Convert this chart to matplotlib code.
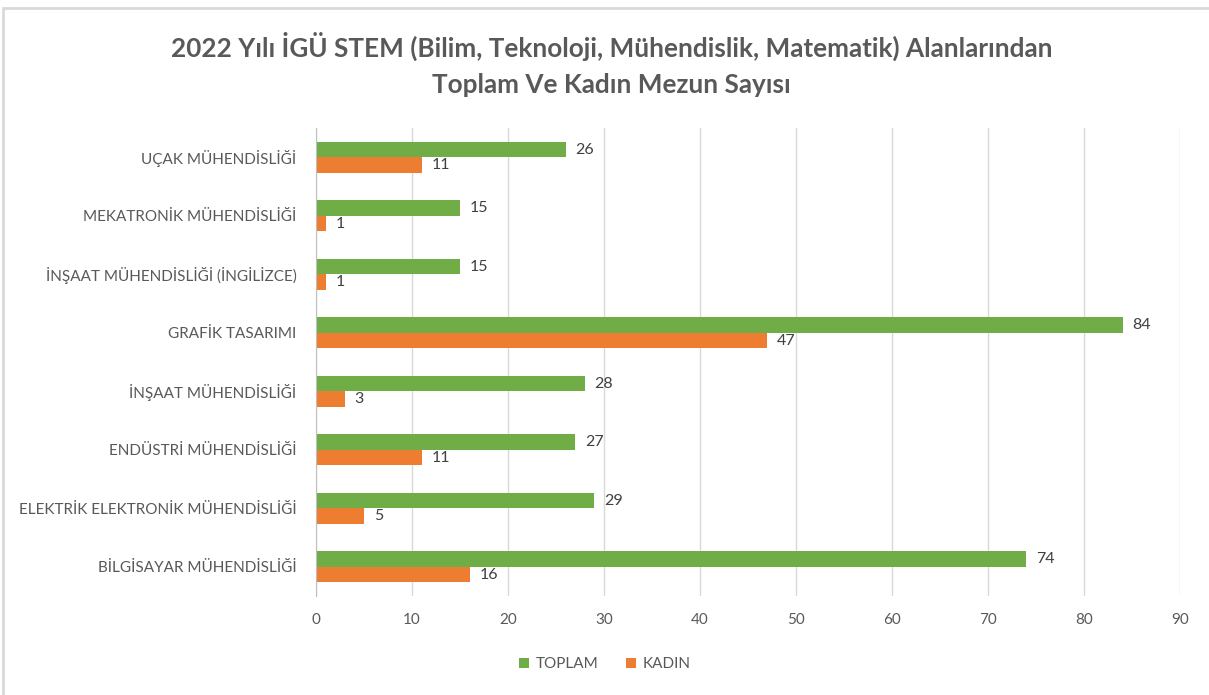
import numpy as np
import matplotlib
matplotlib.use('Agg')
from matplotlib import pyplot as plt
from matplotlib.patches import Rectangle

# data (bottom to top, as in the reference)
bolumler = ['BİLGİSAYAR MÜHENDİSLİĞİ', 'ELEKTRİK ELEKTRONİK MÜHENDİSLİĞİ',
            'ENDÜSTRİ MÜHENDİSLİĞİ', 'İNŞAAT MÜHENDİSLİĞİ', 'GRAFİK TASARIMI',
            'İNŞAAT MÜHENDİSLİĞİ (İNGİLİZCE)', 'MEKATRONİK MÜHENDİSLİĞİ',
            'UÇAK MÜHENDİSLİĞİ']
toplam = [74, 29, 27, 28, 84, 15, 15, 26]
kadin = [16, 5, 11, 3, 47, 1, 1, 11]
x_ticks = [0, 10, 20, 30, 40, 50, 60, 70, 80, 90]

yesil = '#70AD47'
turuncu = '#ED7D31'
gri = '#595959'

plt.rcParams['font.family'] = ['Lato', 'DejaVu Sans']

fig = plt.figure(figsize=(12.09, 6.95), dpi=100)
ax = fig.add_axes([0.2614, 0.1424, 0.7147, 0.6734])

y = np.arange(len(bolumler))
h = 0.265
b1 = ax.barh(y + h / 2, toplam, height=h, color=yesil, label='TOPLAM', zorder=3)
b2 = ax.barh(y - h / 2, kadin, height=h, color=turuncu, label='KADIN', zorder=3)

for bars in (b1, b2):
    for r in bars:
        ax.annotate(str(int(r.get_width())), (r.get_width(), r.get_y() + r.get_height() / 2),
                    xytext=(7, 0), textcoords='offset points', va='center', ha='left',
                    fontsize=11.5, color='#404040')

ax.set_xlim(0, 90)
ax.set_ylim(-0.5, len(bolumler) - 0.5)
ax.set_xticks(x_ticks)
ax.set_yticks(y)
ax.set_yticklabels(bolumler)
ax.tick_params(axis='both', length=0, labelsize=11, colors=gri)
ax.tick_params(axis='x', pad=12)
ax.tick_params(axis='y', pad=14)
ax.grid(axis='x', color='#D9D9D9', linewidth=1, zorder=0)
for s in ['top', 'right', 'bottom']:
    ax.spines[s].set_visible(False)
ax.spines['left'].set_color('#BFBFBF')
ax.spines['left'].set_zorder(4)

fig.text(0.506, 0.933, '2022 Yılı İGÜ STEM (Bilim, Teknoloji, Mühendislik, Matematik) Alanlarından',
         ha='center', va='center', fontsize=18.8, fontweight='bold', color=gri)
fig.text(0.506, 0.877, 'Toplam Ve Kadın Mezun Sayısı',
         ha='center', va='center', fontsize=18.8, fontweight='bold', color=gri)

fig.legend(loc='center', bbox_to_anchor=(0.5, 0.044), ncol=2, frameon=False,
           fontsize=11, labelcolor=gri, handlelength=0.7, handleheight=0.7,
           handletextpad=0.4, columnspacing=1.8)

# chart frame
fig.patches.append(Rectangle((3 / 1209, -0.01), 1.02, 1 - 8 / 695 + 0.01,
                             transform=fig.transFigure, fill=False,
                             edgecolor='#D9D9D9', linewidth=2))

fig.savefig('out.png', dpi=100)
